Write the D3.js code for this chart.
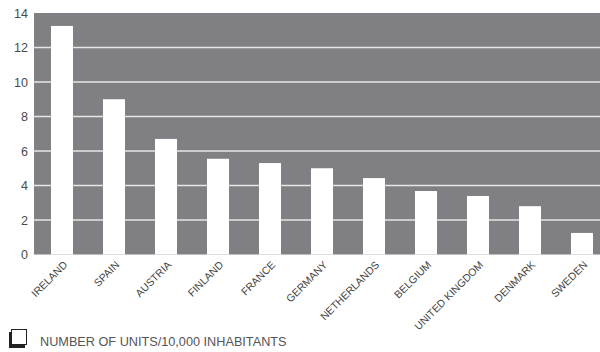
<!DOCTYPE html>
<html>
<head>
<meta charset="utf-8">
<script src="https://cdn.jsdelivr.net/npm/d3@7/dist/d3.min.js"></script>
<style>
  html, body { margin: 0; padding: 0; background: #fff; }
  svg { display: block; }
</style>
</head>
<body>
<script>
// Units per 10,000 inhabitants by country
const countries = ["IRELAND", "SPAIN", "AUSTRIA", "FINLAND", "FRANCE", "GERMANY",
  "NETHERLANDS", "BELGIUM", "UNITED KINGDOM", "DENMARK", "SWEDEN"];
const unitsPer10k = [13.25, 9.0, 6.7, 5.55, 5.3, 5.0, 4.43, 3.68, 3.39, 2.8, 1.25];
const yTicks = [0, 2, 4, 6, 8, 10, 12, 14];
const legendLabel = "NUMBER OF UNITS/10,000 INHABITANTS";

const W = 600, H = 352;
const plot = { left: 34, right: 600, top: 13, bottom: 254.5 };

const svg = d3.select("body").append("svg")
  .attr("width", W).attr("height", H);

const x = d3.scaleBand()
  .domain(countries)
  .range([21, 21 + 52 * (countries.length + 0.577)])
  .padding(0.577);

const y = d3.scaleLinear()
  .domain([0, 14])
  .range([plot.bottom, plot.top]);

// grey plotting area
svg.append("rect")
  .attr("x", plot.left).attr("y", plot.top)
  .attr("width", plot.right - plot.left)
  .attr("height", plot.bottom - plot.top)
  .attr("fill", "#808084");

// horizontal gridlines
svg.append("g")
  .selectAll("line")
  .data(yTicks.filter(d => d > 0 && d < 14))
  .join("line")
  .attr("x1", plot.left).attr("x2", plot.right)
  .attr("y1", d => y(d)).attr("y2", d => y(d))
  .attr("stroke", "#e6e6e8")
  .attr("stroke-width", 1.5);

// bars
svg.append("g")
  .selectAll("rect")
  .data(countries.map((c, i) => ({ c, v: unitsPer10k[i] })))
  .join("rect")
  .attr("x", d => x(d.c))
  .attr("width", x.bandwidth())
  .attr("y", d => y(d.v))
  .attr("height", d => y(0) - y(d.v))
  .attr("fill", "#ffffff");

// y axis labels
const yAxis = svg.append("g")
  .attr("transform", `translate(${plot.left},0)`)
  .call(d3.axisLeft(y).tickValues(yTicks).tickSize(0).tickPadding(6).tickFormat(d3.format("d")));
yAxis.select(".domain").remove();
yAxis.selectAll("text")
  .attr("font-family", "Liberation Sans, Arial, sans-serif")
  .attr("font-size", 12.5)
  .attr("fill", "#4a4a4a");

// x axis labels, rotated
const xAxis = svg.append("g")
  .attr("transform", `translate(0,${plot.bottom})`)
  .call(d3.axisBottom(x).tickSize(0).tickPadding(0));
xAxis.select(".domain").remove();
xAxis.selectAll("text")
  .attr("font-family", "Liberation Sans Narrow, Arial Narrow, Liberation Sans, sans-serif")
  .attr("font-size", 10.5)
  .attr("fill", "#444")
  .attr("text-anchor", "end")
  .attr("dy", null)
  .attr("y", 0)
  .attr("transform", "translate(6,11) rotate(-45)");

// legend: square swatch with a drop shadow
const lg = svg.append("g");
lg.append("rect")
  .attr("x", 9).attr("y", 332).attr("width", 16).attr("height", 16)
  .attr("fill", "#222");
lg.append("rect")
  .attr("x", 11.5).attr("y", 329.5).attr("width", 15).attr("height", 15)
  .attr("fill", "#fff").attr("stroke", "#222").attr("stroke-width", 1);
lg.append("text")
  .attr("x", 40).attr("y", 346)
  .attr("font-family", "Liberation Sans, Arial, sans-serif")
  .attr("font-size", 12.7)
  .attr("fill", "#555")
  .text(legendLabel);
</script>
</body>
</html>
